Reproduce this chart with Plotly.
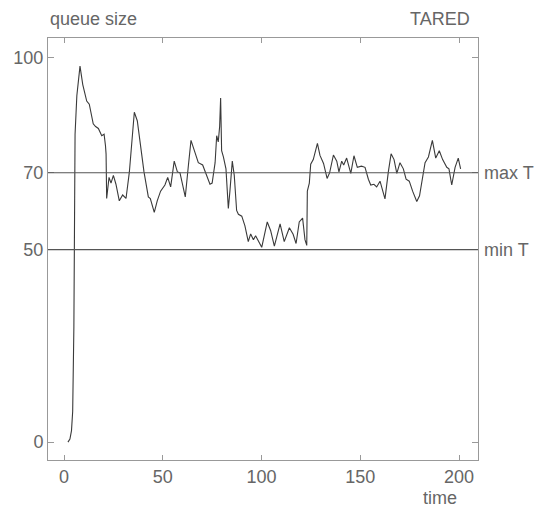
import plotly.graph_objects as go

# ---- data ----
time = [2.0, 3.0, 3.8, 4.4, 5.0, 5.6, 6.5, 8.1, 9.5, 10.5, 11.5, 12.8, 13.5, 14.8, 16.0, 17.4,
        19.1, 20.3, 21.0, 21.3, 21.6, 22.8, 23.8, 25.0, 26.3, 28.0, 29.7, 31.4, 33.1, 34.5,
        35.6, 37.1, 38.5, 40.5, 42.7, 43.7, 45.7, 47.2, 48.9, 51.1, 52.5, 54.0, 55.8, 57.4,
        58.7, 60.0, 61.4, 63.0, 64.3, 66.3, 68.0, 70.2, 72.2, 73.9, 75.0, 76.5, 77.3, 78.1,
        78.8, 79.3, 79.8, 80.7, 82.0, 83.2, 84.0, 85.2, 86.2, 87.4, 88.3, 90.0, 91.6, 93.3,
        94.5, 95.9, 97.0, 98.4, 100.1, 102.9, 104.6, 106.5, 109.4, 111.5, 114.1, 116.0,
        117.5, 119.1, 120.8, 122.0, 122.9, 123.2, 124.2, 124.9, 126.2, 128.3, 129.6, 131.4,
        133.2, 134.5, 136.4, 138.1, 139.2, 140.6, 141.6, 143.1, 145.2, 146.8, 148.5, 150.6,
        152.4, 154.1, 155.3, 156.9, 158.3, 160.0, 162.5, 164.2, 165.6, 167.1, 168.5, 170.1,
        171.8, 173.2, 174.8, 176.5, 178.6, 180.0, 182.8, 184.5, 186.5, 188.2, 190.0, 191.7,
        193.8, 194.9, 196.3, 198.0, 199.6, 200.8]
queue = [0, 0.8, 3, 8, 30, 80, 90, 97.7, 92.9, 90.5, 88.6, 87.8, 86, 82.7, 82, 81.5,
         79.6, 80, 77, 74.9, 63.3, 68.8, 67.3, 69.3, 67, 62.7, 64.2, 63.3, 70.2, 80,
         85.7, 83.5, 78, 70.2, 63.7, 63.3, 59.7, 62.7, 65.2, 66.8, 68.8, 66.3, 73, 70.2,
         70, 67, 63.7, 72, 78.4, 75.3, 72.6, 72, 69.3, 67, 67.3, 72.6, 79.6, 78,
         82, 89.4, 75.7, 74.1, 71, 60.7, 65.2, 73, 69.3, 60.2, 59.2, 58.7, 56.2, 52.1,
         54.1, 52.6, 53.6, 52.3, 50.6, 57.2, 55, 50.9, 56.7, 52.1, 55.7, 54,
         51.6, 57.2, 58.2, 52.6, 51.1, 65.2, 67.3, 72.2, 73.4, 77.6, 74.5, 72.4,
         68.5, 70, 74.6, 73, 70.2, 73, 72, 73.8, 69.8, 74.4, 71.4, 71.7,
         71.4, 68.3, 66.8, 67, 66.3, 67.8, 63.2, 70.2, 74.9, 73.4, 69.8, 72.6,
         71, 68.3, 67.8, 65.2, 62.5, 64, 72.6, 74.1, 78.4, 73.8, 75.7, 73.4,
         71.4, 71, 66.8, 71.4, 73.8, 71]

max_T = 70
min_T = 50
x_ticks = [0, 50, 100, 150, 200]
y_ticks = [0, 50, 70, 100]

FONT = "Liberation Sans, Arial, sans-serif"
TXT = "#666666"
AX = "#999999"

fig = go.Figure()
fig.add_trace(go.Scatter(x=time, y=queue, mode="lines",
                         line=dict(color="#3a3a3a", width=1.1), showlegend=False))

for val, name in [(max_T, "max T"), (min_T, "min T")]:
    fig.add_shape(type="line", xref="paper", x0=0, x1=1, yref="y", y0=val, y1=val,
                  line=dict(color="#555555", width=1.1))
    fig.add_annotation(xref="paper", x=1, yref="y", y=val, text=name, showarrow=False,
                       xanchor="left", yanchor="middle", xshift=4,
                       font=dict(family=FONT, size=18, color=TXT))

fig.add_annotation(xref="paper", x=0, yref="paper", y=1, text="queue size", showarrow=False,
                   xanchor="left", yanchor="bottom", yshift=7,
                   font=dict(family=FONT, size=18, color=TXT))
fig.add_annotation(xref="paper", x=0.985, yref="paper", y=1, text="TARED", showarrow=False,
                   xanchor="right", yanchor="bottom", yshift=7,
                   font=dict(family=FONT, size=18, color=TXT))
fig.add_annotation(xref="paper", x=0.912, yref="paper", y=0, text="time", showarrow=False,
                   xanchor="center", yanchor="top", yshift=-26,
                   font=dict(family=FONT, size=18, color=TXT))

fig.update_xaxes(range=[-8.1, 209.6], tickvals=x_ticks, ticks="inside", ticklen=5,
                 tickcolor=AX, showline=True, linecolor=AX, linewidth=1, mirror="ticks",
                 showgrid=False, zeroline=False,
                 tickfont=dict(family=FONT, size=18, color=TXT))
fig.update_yaxes(range=[-4.65, 105.0], tickvals=y_ticks, ticks="inside", ticklen=6,
                 tickcolor=AX, showline=True, linecolor=AX, linewidth=1, mirror="ticks",
                 showgrid=False, zeroline=False,
                 tickfont=dict(family=FONT, size=18, color=TXT))

fig.update_layout(width=546, height=509, margin=dict(l=48, r=68, t=38, b=49),
                  plot_bgcolor="white", paper_bgcolor="white")

fig.write_html("out.html")
